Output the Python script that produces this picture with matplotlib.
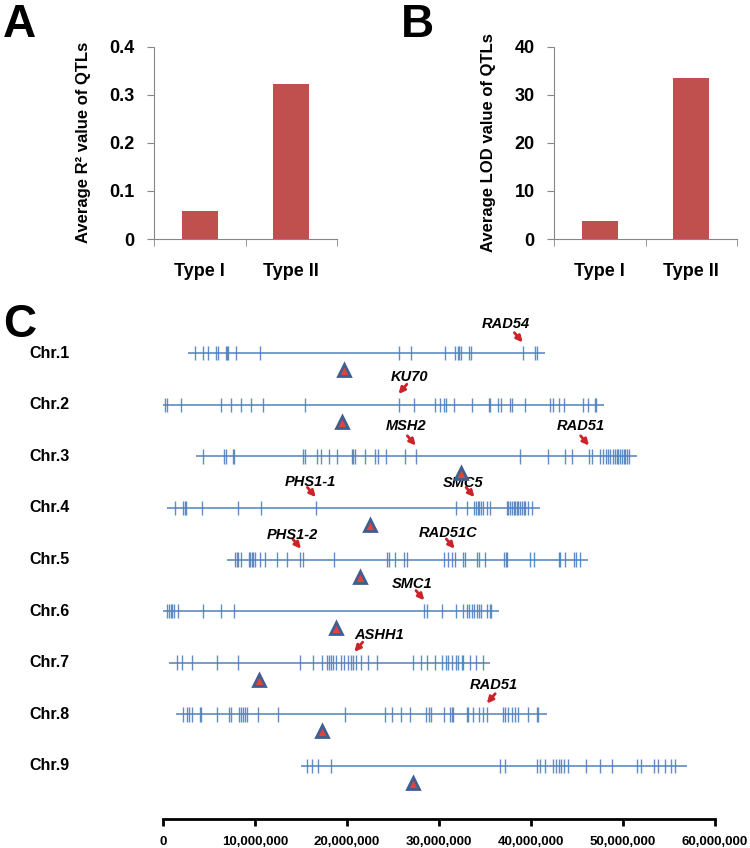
import matplotlib
matplotlib.use('Agg')
import matplotlib.pyplot as plt
import matplotlib.ticker as mticker
from matplotlib.transforms import blended_transform_factory
import numpy as np

# panel A / B data
types = ['Type I', 'Type II']
r2_vals = [0.058, 0.322]
lod_vals = [3.7, 33.4]

# panel C data (positions in Mb)
chroms = ['Chr.1', 'Chr.2', 'Chr.3', 'Chr.4', 'Chr.5', 'Chr.6', 'Chr.7', 'Chr.8', 'Chr.9']
chr_start = [2.75, 0.0, 3.55, 0.4, 7.0, 0.0, 0.7, 1.4, 15.0]
chr_end = [41.5, 47.9, 51.5, 41.0, 46.2, 36.55, 35.5, 41.7, 57.0]
centromere = [19.7, 19.5, 32.4, 22.5, 21.4, 18.8, 10.4, 17.3, 27.2]

qtl_chr1 = [3.48, 4.31, 4.92, 5.72, 5.94, 6.82, 6.92, 7.03, 7.9, 10.54, 25.6, 27.0, 30.7,
            31.74, 32.1, 32.2, 32.4, 33.3, 33.5, 39.1, 40.4, 40.7]
qtl_chr2 = [0.22, 0.4, 1.92, 6.3, 7.4, 8.45, 9.53, 10.9, 15.47, 25.6, 27.3, 29.6, 30.15, 30.5,
            30.8, 31.6, 33.55, 35.4, 35.5, 36.4, 36.7, 37.7, 37.9, 39.35, 42.1, 42.4, 43.0,
            43.6, 45.6, 46.2, 47.0, 47.1]
qtl_chr3 = [4.31, 6.63, 6.85, 7.64, 7.75, 15.25, 15.43, 16.7, 17.14, 18.08, 18.95, 20.5, 20.7,
            20.9, 21.96, 23.04, 23.4, 24.24, 26.3, 27.47, 38.8, 41.9, 43.7, 44.5, 46.3, 46.6,
            47.5, 47.86, 48.2, 48.4, 48.6, 48.95, 49.1, 49.3, 49.5, 49.7, 49.9, 50.1, 50.2,
            50.4, 50.65]
qtl_chr4 = [1.3, 2.2, 2.4, 2.5, 4.2, 8.1, 10.65, 16.6, 31.9, 33.0, 33.85, 34.0, 34.2, 34.4,
            34.6, 34.8, 35.2, 35.55, 37.4, 37.55, 37.7, 37.9, 38.1, 38.3, 38.5, 38.6, 38.8,
            39.0, 39.2, 39.35, 39.7, 40.1]
qtl_chr5 = [7.8, 8.0, 8.2, 8.45, 9.3, 9.45, 9.64, 9.82, 10.0, 10.5, 11.1, 12.36, 13.45, 14.9,
            15.2, 18.6, 24.4, 24.6, 25.2, 26.2, 26.55, 30.5, 31.0, 31.4, 31.7, 32.6, 32.8,
            34.1, 34.3, 35.0, 37.1, 37.25, 37.35, 39.9, 40.3, 43.0, 43.15, 43.7, 44.7, 44.9,
            45.3]
qtl_chr6 = [0.47, 0.65, 0.84, 1.0, 1.2, 1.66, 4.3, 6.27, 7.7, 28.4, 28.7, 30.35, 31.9, 32.6,
            33.0, 33.3, 33.55, 33.8, 34.1, 34.4, 34.6, 35.2, 35.55, 35.7]
qtl_chr7 = [1.49, 2.03, 3.1, 5.84, 8.1, 14.9, 16.34, 17.25, 17.8, 18.04, 18.26, 18.5, 18.8,
            19.3, 19.7, 20.15, 20.45, 20.7, 20.95, 21.5, 22.3, 23.3, 27.2, 28.0, 28.66, 29.6,
            30.35, 30.8, 31.0, 31.4, 31.85, 32.1, 32.45, 32.6, 33.4, 34.0, 34.75]
qtl_chr8 = [2.2, 2.64, 2.86, 3.1, 4.0, 4.13, 5.84, 7.2, 7.36, 8.3, 8.5, 8.73, 8.9, 9.1, 10.36,
            12.5, 19.8, 24.1, 24.9, 25.9, 26.85, 28.6, 28.95, 29.1, 30.5, 31.2, 31.4, 31.55,
            33.0, 33.2, 33.7, 34.3, 34.8, 35.2, 37.0, 37.2, 37.5, 37.9, 38.3, 38.6, 39.7,
            40.6, 40.8]
qtl_chr9 = [15.6, 16.2, 16.8, 18.3, 36.6, 37.2, 40.6, 41.0, 41.5, 42.4, 42.7, 43.0, 43.3,
            43.6, 44.0, 46.0, 47.5, 48.8, 51.5, 52.0, 53.4, 53.8, 54.6, 55.2, 55.6]
qtl_all = [qtl_chr1, qtl_chr2, qtl_chr3, qtl_chr4, qtl_chr5, qtl_chr6, qtl_chr7, qtl_chr8, qtl_chr9]

genes = ['RAD54', 'KU70', 'MSH2', 'RAD51', 'PHS1-1', 'SMC5', 'PHS1-2', 'RAD51C', 'SMC1', 'ASHH1', 'RAD51']
gene_chr = [1, 2, 3, 3, 4, 4, 5, 5, 6, 7, 8]
gene_pos = [39.1, 25.6, 27.47, 46.3, 16.6, 33.85, 15.0, 31.7, 28.4, 20.8, 35.2]

# label offsets (points) and arrow direction, layout only
lab_off = [(-12, 13), (8, 12), (-7, 14), (-6, 14), (-4, 11), (-8, 10), (-6, 10), (-5, 11),
           (-9, 12), (18, 12), (5, 13)]
arrow_left = [False, True, False, False, False, False, False, False, False, True, True]

bar_col = '#c0504d'
spine_col = '#868686'
blue = '#4f81bd'
bfont = 'Liberation Sans'

fig = plt.figure(figsize=(7.5, 8.48), dpi=100)


def bar_panel(rect, vals, ylim, yticks, ylabel):
    ax = fig.add_axes(rect)
    x = np.arange(len(types))
    ax.bar(x, vals, width=0.39, color=bar_col)
    ax.set_xlim(-0.5, 1.5)
    ax.set_ylim(*ylim)
    ax.set_yticks(yticks)
    ax.yaxis.set_major_formatter(mticker.FuncFormatter(lambda v, p: '0' if v == 0 else f'{v:g}'))
    ax.set_xticks(x)
    ax.set_xticklabels(types)
    ax.set_xticks([-0.5, 0.5, 1.5], minor=True)
    ax.tick_params(axis='x', which='major', length=0, pad=17)
    ax.tick_params(axis='x', which='minor', length=5, color=spine_col, direction='out')
    ax.tick_params(axis='y', length=5, color=spine_col, pad=9)
    for lab in ax.get_xticklabels() + ax.get_yticklabels():
        lab.set_fontfamily(bfont)
        lab.set_fontweight('bold')
        lab.set_fontsize(13)
    for s in ['top', 'right']:
        ax.spines[s].set_visible(False)
    for s in ['left', 'bottom']:
        ax.spines[s].set_color(spine_col)
    ax.set_ylabel(ylabel, fontfamily=bfont, fontweight='bold', fontsize=12, labelpad=13)
    return ax


bar_panel([154 / 750, 1 - 239 / 848, 183 / 750, 192.3 / 848], r2_vals, (0, 0.4),
          [0, 0.1, 0.2, 0.3, 0.4], 'Average R\u00b2 value of QTLs')
bar_panel([554 / 750, 1 - 239 / 848, 183 / 750, 192.3 / 848], lod_vals, (0, 40),
          [0, 10, 20, 30, 40], 'Average LOD value of QTLs')

for letter, xx, yy in [('A', 3, 3), ('B', 401, 3), ('C', 3, 303)]:
    fig.text(xx / 750, 1 - yy / 848, letter, fontsize=33, fontweight='bold',
             family='Liberation Sans', va='top', ha='left')

# panel C
axc = fig.add_axes([163 / 750, 1 - 819 / 848, 552 / 750, 489 / 848])
axc.set_xlim(0, 60e6)
axc.set_ylim(9.03, -0.45)
rows = np.arange(len(chroms))
M = 1e6
for i in rows:
    axc.hlines(i, chr_start[i] * M, chr_end[i] * M, color=blue, lw=1.1, clip_on=False)
    xs = np.array(qtl_all[i]) * M
    axc.vlines(xs, i - 0.14, i + 0.14, color=blue, lw=1.0, alpha=0.9, clip_on=False)

axc.plot(np.array(centromere) * M, rows + 0.33, '^', ms=8, mfc='#e8413c', mec='#3e5f8f',
         mew=2, ls='none', clip_on=False, zorder=5)

trans = blended_transform_factory(fig.transFigure, axc.transData)
for i, name in enumerate(chroms):
    axc.text(70 / 750, i, name, transform=trans, ha='right', va='center',
             fontsize=11.5, fontweight='bold', family=bfont)

for g, c, p, off, left in zip(genes, gene_chr, gene_pos, lab_off, arrow_left):
    tip = (p * M, c - 1 - 0.21)
    tail = (6, 7) if left else (-6, 7)
    axc.annotate('', xy=tip, xytext=tail, textcoords='offset points',
                 arrowprops=dict(arrowstyle='-|>', color='#cc2229', lw=2,
                                 mutation_scale=9, shrinkA=0, shrinkB=0))
    axc.annotate(g, xy=tip, xytext=off, textcoords='offset points', ha='center', va='center',
                 fontsize=10.5, fontweight='bold', fontstyle='italic', family='Liberation Sans',
                 annotation_clip=False)

for s in ['top', 'right', 'left']:
    axc.spines[s].set_visible(False)
axc.spines['bottom'].set_linewidth(2)
axc.set_yticks([])
axc.set_xticks(np.arange(0, 60e6 + 1, 10e6))
axc.xaxis.set_major_formatter(mticker.FuncFormatter(lambda v, p: f'{v:,.0f}'))
axc.tick_params(axis='x', length=5, width=2, pad=7)
for lab in axc.get_xticklabels():
    lab.set_fontfamily(bfont)
    lab.set_fontweight('bold')
    lab.set_fontsize(9.5)

fig.savefig('out.png', dpi=100)
